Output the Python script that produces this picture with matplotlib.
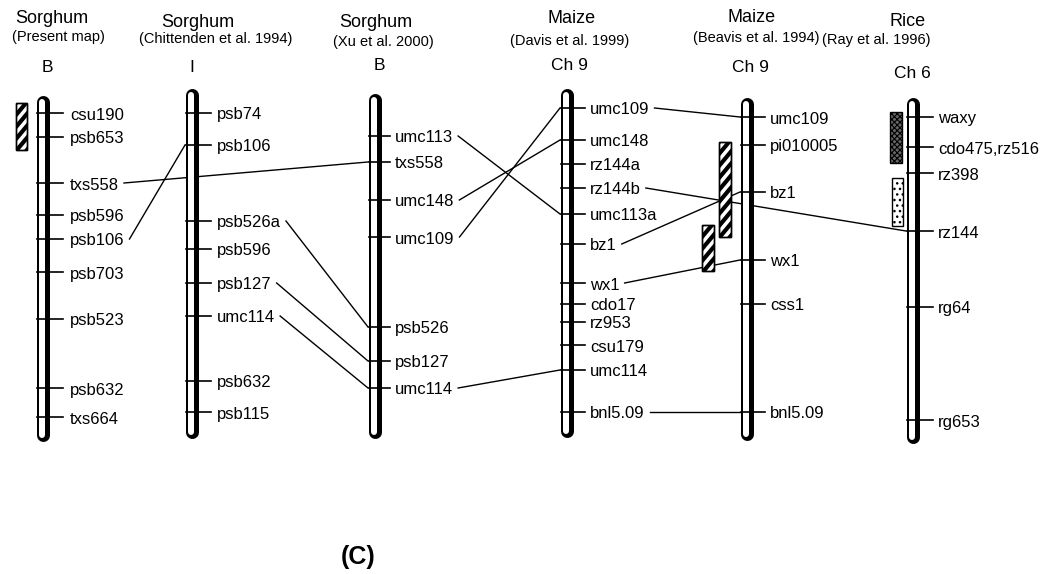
import matplotlib
import matplotlib.pyplot as plt
from matplotlib.patches import Rectangle

matplotlib.use("Agg")
plt.rcParams["font.family"] = ["Liberation Sans", "DejaVu Sans"]

# map headers
species = ["Sorghum", "Sorghum", "Sorghum", "Maize", "Maize", "Rice"]
sources = ["(Present map)", "(Chittenden et al. 1994)", "(Xu et al. 2000)",
           "(Davis et al. 1999)", "(Beavis et al. 1994)", "(Ray et al. 1996)"]
groups = ["B", "I", "B", "Ch 9", "Ch 9", "Ch 6"]

# chromosome extents (figure rows, top -> bottom)
chrom_top = [95, 88, 93, 88, 97, 97]
chrom_bottom = [441, 438, 438, 437, 440, 443]

# markers on each map
marker_names = [
    ["csu190", "psb653", "txs558", "psb596", "psb106", "psb703", "psb523", "psb632", "txs664"],
    ["psb74", "psb106", "psb526a", "psb596", "psb127", "umc114", "psb632", "psb115"],
    ["umc113", "txs558", "umc148", "umc109", "psb526", "psb127", "umc114"],
    ["umc109", "umc148", "rz144a", "rz144b", "umc113a", "bz1", "wx1", "cdo17", "rz953",
     "csu179", "umc114", "bnl5.09"],
    ["umc109", "pi010005", "bz1", "wx1", "css1", "bnl5.09"],
    ["waxy", "cdo475,rz516", "rz398", "rz144", "rg64", "rg653"],
]
marker_pos = [
    [113, 137, 183, 215, 239, 272, 319, 388, 417],
    [113, 145, 221, 249, 283, 316, 381, 412],
    [136, 162, 200, 237, 327, 361, 388],
    [108, 140, 164, 188, 214, 244, 283, 304, 322, 345, 370, 412],
    [117, 145, 192, 260, 304, 412],
    [117, 147, 173, 231, 307, 420],
]

# homologous marker links: (from map, marker, to map, marker)
links = [
    (0, "txs558", 2, "txs558"),
    (0, "psb106", 1, "psb106"),
    (1, "psb526a", 2, "psb526"),
    (1, "psb127", 2, "psb127"),
    (1, "umc114", 2, "umc114"),
    (2, "umc113", 3, "umc113a"),
    (2, "umc148", 3, "umc148"),
    (2, "umc109", 3, "umc109"),
    (2, "umc114", 3, "umc114"),
    (3, "umc109", 4, "umc109"),
    (3, "rz144b", 5, "rz144"),
    (3, "bz1", 4, "bz1"),
    (3, "wx1", 4, "wx1"),
    (3, "bnl5.09", 4, "bnl5.09"),
]

# QTL intervals beside the maps: (map, top, bottom, kind)
qtl_map = [0, 4, 4, 5, 5]
qtl_top = [103, 142, 225, 112, 178]
qtl_bottom = [150, 237, 271, 163, 226]
qtl_kind = ["stripe", "stripe", "stripe", "dense", "dots"]

# layout
W, H = 1052, 574
PX = 0.72  # points per pixel at 100 dpi
chrom_x = [43, 192, 375, 567, 747, 913]
tick_end = [20, 19, 15, 18, 18, 20]
label_off = [27, 25, 20, 23, 23, 25]
title_x = [52, 198, 376, 572, 752, 908]
title_y = [23, 27, 27, 23, 22, 26]
source_x = [58, 216, 383, 570, 756, 876]
source_y = [41, 43, 46, 45, 42, 44]
group_x = [47, 192, 379, 569, 750, 912]
group_y = [72, 72, 70, 70, 72, 78]
qtl_left = [-27, -28, -45, -23, -21]
qtl_right = [-16, -16, -33, -11, -10]

fig = plt.figure(figsize=(W / 100, H / 100), dpi=100)
ax = fig.add_axes([0, 0, 1, 1])
ax.set_xlim(0, W)
ax.set_ylim(H, 0)
ax.axis("off")

for i in range(len(species)):
    ax.text(title_x[i], title_y[i], species[i], fontsize=13, ha="center", va="baseline")
    ax.text(source_x[i], source_y[i], sources[i], fontsize=10.5, ha="center", va="baseline")
    ax.text(group_x[i], group_y[i], groups[i], fontsize=12.5, ha="center", va="baseline")

# chromosomes
label_artists = []
for i, x in enumerate(chrom_x):
    ax.plot([x, x], [chrom_top[i] + 6.5, chrom_bottom[i] - 6.5], color="black",
            lw=13 * PX, solid_capstyle="round", zorder=2)
    ax.plot([x - 1, x - 1], [chrom_top[i] + 6.5, chrom_bottom[i] - 6.5], color="white",
            lw=6 * PX, solid_capstyle="round", zorder=3)
    arts = {}
    for name, y in zip(marker_names[i], marker_pos[i]):
        ax.plot([x - 6, x + tick_end[i]], [y, y], color="black", lw=1.2, zorder=4)
        arts[name] = ax.text(x + label_off[i], y + 6.5, name, fontsize=12, va="baseline")
    label_artists.append(arts)

# QTL boxes
for k in range(len(qtl_map)):
    cx = chrom_x[qtl_map[k]]
    x0, x1 = cx + qtl_left[k], cx + qtl_right[k]
    y0, y1 = qtl_top[k], qtl_bottom[k]
    if qtl_kind[k] == "stripe":
        box = Rectangle((x0, y0), x1 - x0, y1 - y0, facecolor="white",
                        edgecolor="black", lw=1.0, zorder=5)
        ax.add_patch(box)
        c = y0
        while c < y1 + (x1 - x0) * 1.2 + 12:
            ln, = ax.plot([x0 - 2, x1 + 2], [c + 2 * 1.2, c - (x1 - x0 + 2) * 1.2],
                          color="black", lw=3.0, zorder=6, solid_capstyle="butt")
            ln.set_clip_path(box)
            c += 12
        ax.add_patch(Rectangle((x0, y0), x1 - x0, y1 - y0, facecolor="none",
                               edgecolor="black", lw=1.0, zorder=7))
    elif qtl_kind[k] == "dense":
        plt.rcParams["hatch.linewidth"] = 0.8
        ax.add_patch(Rectangle((x0, y0), x1 - x0, y1 - y0, facecolor="0.4",
                               edgecolor="black", hatch="xxxxxx", lw=1.0, zorder=5))
    else:
        plt.rcParams["hatch.linewidth"] = 1.0
        ax.add_patch(Rectangle((x0, y0), x1 - x0, y1 - y0, facecolor="white",
                               edgecolor="black", hatch="...", lw=1.0, zorder=5))

# links start at the end of the marker label, end at the next chromosome's edge
fig.canvas.draw()
renderer = fig.canvas.get_renderer()
inv = ax.transData.inverted()
for src, m1, dst, m2 in links:
    bb = label_artists[src][m1].get_window_extent(renderer)
    xs = inv.transform((bb.x1, bb.y0))[0] + 5
    y1 = marker_pos[src][marker_names[src].index(m1)]
    y2 = marker_pos[dst][marker_names[dst].index(m2)]
    ax.plot([xs, chrom_x[dst] - 7], [y1, y2], color="black", lw=1.0, zorder=1)

ax.text(358, 557, "(C)", fontsize=18, fontweight="bold", ha="center", va="center")

fig.savefig("out.png", dpi=100)
